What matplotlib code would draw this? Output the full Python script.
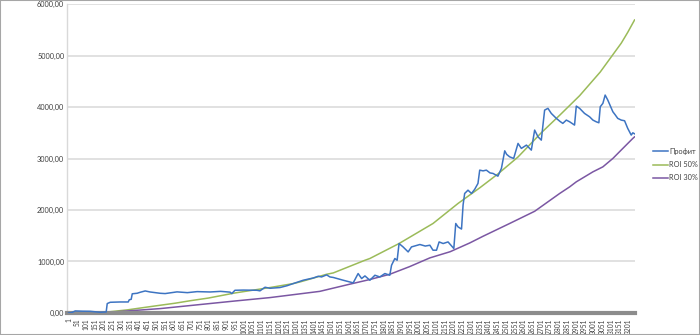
import matplotlib
matplotlib.use("Agg")
import matplotlib.pyplot as plt
from matplotlib.patches import Rectangle

# series: (trade number, value)
prof_idx = [1, 20, 39, 80, 125, 182, 216, 222, 239, 296, 342, 348, 359, 365, 393, 410, 439, 467,
            524, 553, 621, 680, 736, 810, 870, 924, 934, 952, 1000, 1078, 1095, 1124, 1152, 1209,
            1250, 1285, 1342, 1400, 1428, 1447, 1476, 1495, 1514, 1571, 1628, 1656, 1676, 1695,
            1723, 1752, 1780, 1809, 1837, 1847, 1866, 1879, 1890, 1913, 1942, 1961, 2009, 2040,
            2066, 2084, 2104, 2119, 2142, 2170, 2203, 2214, 2227, 2247, 2256, 2265, 2284, 2304,
            2322, 2341, 2351, 2370, 2389, 2410, 2427, 2455, 2475, 2494, 2505, 2522, 2545, 2570,
            2589, 2618, 2646, 2665, 2684, 2703, 2722, 2741, 2760, 2789, 2810, 2826, 2846, 2865,
            2893, 2903, 2922, 2950, 2979, 2998, 3017, 3032, 3040, 3055, 3068, 3083, 3112, 3125,
            3140, 3160, 3179, 3197, 3217, 3226, 3236]
prof_val = [0, 10, 40, 35, 33, 14, 20, 183, 208, 214, 214, 257, 266, 373, 383, 402, 428, 408,
            383, 377, 410, 395, 415, 408, 420, 405, 377, 441, 445, 441, 430, 500, 480, 494,
            530, 571, 636, 680, 713, 700, 740, 700, 690, 636, 585, 766, 669, 720,
            636, 733, 700, 766, 733, 927, 1058, 1024, 1349, 1283, 1186, 1283, 1330, 1300,
            1316, 1219, 1219, 1380, 1349, 1380, 1252, 1738, 1672, 1630, 2100, 2321, 2385, 2321,
            2400, 2516, 2774, 2760, 2774, 2720, 2710, 2657, 2807, 3149, 3080, 3033, 3001, 3293,
            3196, 3260, 3163, 3552, 3422, 3357, 3940, 3974, 3876, 3779, 3720, 3682, 3746, 3713,
            3649, 4018, 3974, 3876, 3810, 3746, 3713, 3694, 4005, 4071, 4232, 4135, 3908, 3850,
            3779, 3746, 3733, 3585, 3455, 3499, 3480]

roi50_idx = [1, 100, 224, 336, 450, 524, 610, 700, 800, 952, 1152, 1285, 1324, 1476, 1514,
             1695, 1723, 1890, 2084, 2227, 2351, 2455, 2570, 2703, 2808, 2865, 2922, 3040,
             3100, 3160, 3197, 3236]
roi50_val = [0, 5, 20, 60, 115, 150, 190, 240, 290, 389, 494, 571, 603, 752, 778,
             1024, 1058, 1349, 1738, 2127, 2430, 2700, 3030, 3500, 3840, 4030, 4220, 4680,
             4960, 5240, 5450, 5690]

roi30_idx = [1, 224, 524, 952, 1152, 1437, 1609, 1723, 1837, 1950, 2066, 2182, 2294, 2370,
             2522, 2665, 2808, 2865, 2903, 2998, 3055, 3112, 3169, 3226, 3236]
roi30_val = [0, 12, 85, 233, 299, 420, 560, 650, 752, 900, 1070, 1190, 1360, 1490,
             1738, 1975, 2321, 2449, 2547, 2741, 2838, 3001, 3196, 3390, 3420]

n_points = 3236
x_ticks = list(range(1, 3202, 50))
y_ticks = [0, 1000, 2000, 3000, 4000, 5000, 6000]

plt.rcParams['font.family'] = ['Lato', 'Noto Sans', 'DejaVu Sans']

fig = plt.figure(figsize=(7, 3.35), dpi=100)
ax = fig.add_axes([0.0957, 0.0657, 0.8113, 0.9223])

ax.plot(prof_idx, prof_val, color='#3d74c2', lw=1.1, label='Профит', zorder=3)
ax.plot(roi50_idx, roi50_val, color='#9bbb59', lw=1.1, label='ROI 50%', zorder=2)
ax.plot(roi30_idx, roi30_val, color='#7b57a3', lw=1.1, label='ROI 30%', zorder=2)

ax.set_xlim(-8, n_points + 2)
ax.set_ylim(0, 6000)
ax.set_yticks(y_ticks)
ax.set_yticklabels([('%.2f' % v).replace('.', ',') for v in y_ticks], fontsize=5.3, color='#404040')
ax.set_xticks(x_ticks)
ax.set_xticklabels([str(t) for t in x_ticks], rotation=90, fontsize=4.8, color='#404040')
ax.tick_params(axis='both', length=0, pad=2)
ax.tick_params(axis='x', pad=4)

ax.grid(axis='y', color='#d9d9d9', lw=1.1)
ax.set_axisbelow(True)
for s in ['top', 'right']:
    ax.spines[s].set_visible(False)
ax.spines['left'].set_color('#d9d9d9')
ax.spines['left'].set_linewidth(1)
ax.spines['bottom'].set_color('#8c8c8c')
ax.spines['bottom'].set_linewidth(3)

leg = ax.legend(loc='center left', bbox_to_anchor=(1.02, 0.48), frameon=False,
                fontsize=5.3, handlelength=2.0, handletextpad=0.2, labelspacing=0.85)
for t in leg.get_texts():
    t.set_color('#404040')

fig.patches.append(Rectangle((0, 0), 1, 1, transform=fig.transFigure, fill=False,
                             edgecolor='#a6a6a6', lw=1.5))

plt.savefig("out.png", dpi=100)
